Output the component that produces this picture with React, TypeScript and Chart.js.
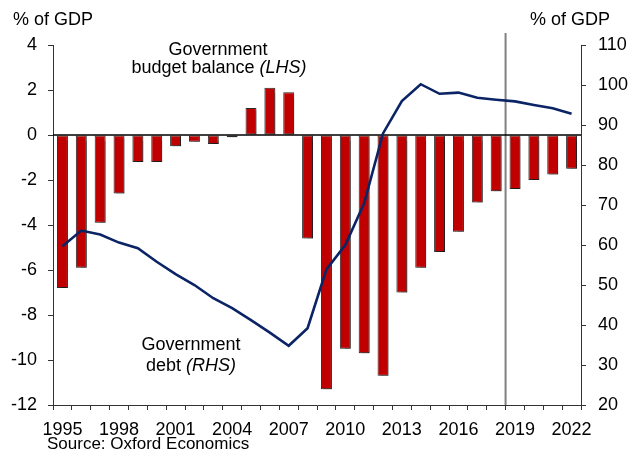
import React, { useEffect, useRef } from 'react';
import { Chart, registerables } from 'chart.js';

Chart.register(...registerables);

const years = ['1995', '1996', '1997', '1998', '1999', '2000', '2001', '2002', '2003', '2004', '2005', '2006', '2007', '2008', '2009', '2010', '2011', '2012', '2013', '2014', '2015', '2016', '2017', '2018', '2019', '2020', '2021', '2022'];
const budgetBalance = [-6.8, -5.9, -3.9, -2.6, -1.2, -1.2, -0.5, -0.3, -0.4, -0.1, 1.2, 2.1, 1.9, -4.6, -11.3, -9.5, -9.7, -10.7, -7.0, -5.9, -5.2, -4.3, -3.0, -2.5, -2.4, -2.0, -1.75, -1.5];
const govDebt = [59.7, 63.6, 62.6, 60.6, 59.2, 55.8, 52.7, 50.0, 46.7, 44.2, 41.2, 38.1, 34.8, 39.2, 53.9, 60.0, 70.4, 87.9, 96.0, 100.2, 97.8, 98.1, 96.8, 96.3, 95.9, 95.0, 94.2, 92.8];
const forecastStart = '2019';
const leftUnit = '% of GDP';
const rightUnit = '% of GDP';
const sourceText = 'Source: Oxford Economics';

const FONT = '"Liberation Sans", Arial, Helvetica, sans-serif';

const drawMixed = (ctx: CanvasRenderingContext2D, parts: { t: string; italic?: boolean }[], cx: number, cy: number, size: number) => {
  let total = 0;
  const widths = parts.map((p) => {
    ctx.font = `${p.italic ? 'italic ' : ''}${size}px ${FONT}`;
    const w = ctx.measureText(p.t).width;
    total += w;
    return w;
  });
  let x = cx - total / 2;
  ctx.textAlign = 'left';
  ctx.textBaseline = 'middle';
  parts.forEach((p, i) => {
    ctx.font = `${p.italic ? 'italic ' : ''}${size}px ${FONT}`;
    ctx.fillText(p.t, x, cy);
    x += widths[i];
  });
};

const decorPlugin = {
  id: 'decor',
  beforeDatasetsDraw(chart: any) {
    const { ctx, chartArea, scales } = chart;
    const x = scales.x;
    ctx.save();
    const i = years.indexOf(forecastStart);
    const xs = (x.getPixelForValue(i - 1) + x.getPixelForValue(i)) / 2;
    ctx.strokeStyle = '#808080';
    ctx.lineWidth = 2;
    ctx.beginPath();
    ctx.moveTo(xs, 33);
    ctx.lineTo(xs, chartArea.bottom);
    ctx.stroke();
    ctx.restore();
  },
  beforeDatasetDraw(chart: any, args: any) {
    if (args.index === 0) {
      const ctx = chart.ctx;
      ctx.save();
      ctx.shadowColor = 'rgba(0,0,0,0.35)';
      ctx.shadowOffsetX = 2;
      ctx.shadowOffsetY = 2;
      ctx.shadowBlur = 1;
    }
  },
  afterDatasetDraw(chart: any, args: any) {
    const { ctx, chartArea, scales } = chart;
    if (args.index === 0) {
      ctx.restore();
      const y0 = scales.yL.getPixelForValue(0);
      ctx.save();
      ctx.strokeStyle = '#000';
      ctx.lineWidth = 1.3;
      ctx.beginPath();
      ctx.moveTo(chartArea.left, y0);
      ctx.lineTo(chartArea.right, y0);
      ctx.stroke();
      ctx.restore();
    }
  },
  afterDraw(chart: any) {
    const { ctx } = chart;
    ctx.save();
    ctx.fillStyle = '#000';
    ctx.font = `18px ${FONT}`;
    ctx.textBaseline = 'middle';
    ctx.textAlign = 'left';
    ctx.fillText(leftUnit, 13, 20);
    ctx.fillText(rightUnit, 530, 20);
    drawMixed(ctx, [{ t: 'Government' }], 218, 50, 18);
    drawMixed(ctx, [{ t: 'budget balance ' }, { t: '(LHS)', italic: true }], 219, 68, 18);
    drawMixed(ctx, [{ t: 'Government' }], 191, 345, 18);
    drawMixed(ctx, [{ t: 'debt ' }, { t: '(RHS)', italic: true }], 191, 366, 18);
    ctx.font = `17px ${FONT}`;
    ctx.textAlign = 'left';
    ctx.fillText(sourceText, 47, 444);
    ctx.restore();
  },
};

export default function App() {
  const ref = useRef<HTMLCanvasElement | null>(null);
  useEffect(() => {
    if (!ref.current) return;
    const chart = new Chart(ref.current, {
      type: 'bar',
      data: {
        labels: years,
        datasets: [
          {
            type: 'bar',
            label: 'Government budget balance (LHS)',
            data: budgetBalance,
            backgroundColor: '#C00000',
            borderColor: '#2a2a2a',
            borderWidth: 1,
            borderSkipped: false,
            categoryPercentage: 1,
            barPercentage: 0.58,
            yAxisID: 'yL',
            order: 1,
          },
          {
            type: 'line',
            label: 'Government debt (RHS)',
            data: govDebt,
            borderColor: '#0B2466',
            borderWidth: 2.6,
            pointRadius: 0,
            tension: 0,
            fill: false,
            yAxisID: 'yR',
            order: 0,
          },
        ],
      },
      options: {
        responsive: false,
        animation: false,
        layout: { padding: { top: 45, left: 0, right: 0, bottom: 0 } },
        plugins: { legend: { display: false }, tooltip: { enabled: false }, title: { display: false } },
        scales: {
          x: {
            type: 'category',
            offset: true,
            grid: { display: true, offset: true, drawOnChartArea: false, drawTicks: true, tickLength: 5, color: '#333', lineWidth: 1 },
            border: { display: true, color: '#333', width: 1 },
            ticks: {
              autoSkip: false,
              maxRotation: 0,
              minRotation: 0,
              padding: 9,
              color: '#000',
              font: { family: FONT, size: 18 },
              callback: (_v: any, idx: number) => (idx % 3 === 0 ? years[idx] : ''),
            },
            afterFit: (s: any) => { s.height = 53; },
          },
          yL: {
            type: 'linear',
            position: 'left',
            min: -12,
            max: 4,
            ticks: { stepSize: 2, padding: 11, color: '#000', font: { family: FONT, size: 18 } },
            grid: { drawOnChartArea: false, drawTicks: true, tickLength: 5, color: '#333' },
            border: { display: true, color: '#333', width: 1 },
            afterFit: (s: any) => { s.width = 53; },
          },
          yR: {
            type: 'linear',
            position: 'right',
            min: 20,
            max: 110,
            ticks: { stepSize: 10, padding: 12, color: '#000', font: { family: FONT, size: 18 } },
            grid: { drawOnChartArea: false, drawTicks: true, tickLength: 5, color: '#333' },
            border: { display: true, color: '#333', width: 1 },
            afterFit: (s: any) => { s.width = 62; },
          },
        },
      },
      plugins: [decorPlugin],
    } as any);
    return () => chart.destroy();
  }, []);
  return (
    <div style={{ position: 'fixed', left: 0, top: 0, width: 643, height: 458, background: '#fff' }}>
      <canvas ref={ref} width={643} height={458} style={{ display: 'block', width: 643, height: 458 }} />
    </div>
  );
}
